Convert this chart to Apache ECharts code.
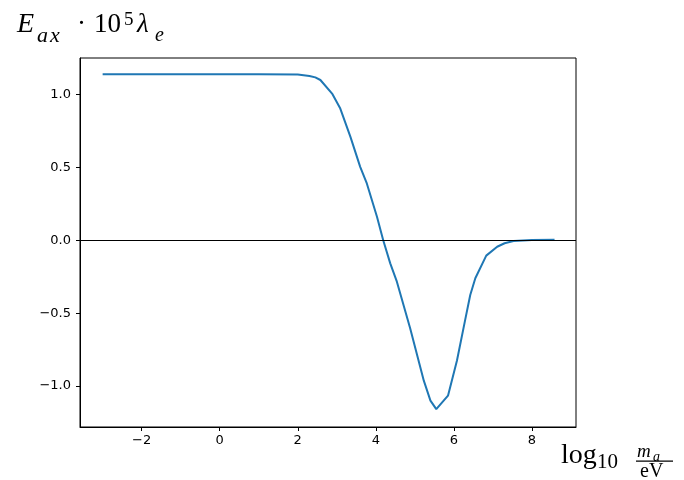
<!DOCTYPE html>
<html>
<head>
<meta charset="utf-8">
<script src="https://cdn.jsdelivr.net/npm/echarts@6/dist/echarts.min.js"></script>
<style>
  html, body { margin: 0; padding: 0; background: #fff; }
  #chart { width: 684px; height: 480px; }
</style>
</head>
<body>
<div id="chart"></div>
<script>
  // log10(m_a / eV)
  const massLog = [-3, -2, -1, 0, 1, 2, 2.3, 2.45, 2.58, 2.88, 3.09, 3.35, 3.6, 3.77, 4.03, 4.19, 4.37, 4.54, 4.88, 5.23, 5.4, 5.55, 5.85, 6.08, 6.29, 6.42, 6.55, 6.83, 7.11, 7.3, 7.53, 8.0, 8.58]
  // E_ax * 1e5 * lambda_e
  const energy = [1.139, 1.139, 1.139, 1.139, 1.139, 1.137, 1.128, 1.118, 1.1, 1.007, 0.904, 0.71, 0.504, 0.39, 0.162, 0, -0.158, -0.284, -0.603, -0.963, -1.1, -1.158, -1.066, -0.825, -0.546, -0.375, -0.26, -0.105, -0.044, -0.02, -0.005, 0.002, 0.004]
  const xTicks = [-2, 0, 2, 4, 6, 8]
  const yTicks = [-1, -0.5, 0, 0.5, 1]

  const minus = s => String(s).replace('-', '\u2212')
  const serif = '"Liberation Serif", "DejaVu Serif", serif'

  const chart = echarts.init(document.getElementById('chart'))

  // small helper for the math-like labels
  function txt(x, y, text, size, italic) {
    return {
      type: 'text', x: x, y: y, silent: true,
      style: {
        text: text, fill: '#000',
        font: (italic ? 'italic ' : '') + size + 'px ' + serif,
        verticalAlign: 'middle', align: 'left'
      }
    }
  }

  const option = {
    animation: false,
    backgroundColor: '#fff',
    grid: {
      left: 80, right: 108, top: 58, bottom: 53,
      show: true, borderColor: '#000', borderWidth: 1
    },
    xAxis: {
      type: 'value', min: -3.58, max: 9.13,
      axisLine: { show: true, onZero: false, lineStyle: { color: '#000', width: 1 } },
      axisTick: { show: true, customValues: xTicks, length: 4, lineStyle: { color: '#000' } },
      axisLabel: {
        customValues: xTicks, color: '#000', fontSize: 13, margin: 7,
        fontFamily: '"DejaVu Sans", sans-serif',
        formatter: v => minus(v)
      },
      splitLine: { show: false }
    },
    yAxis: {
      type: 'value', min: -1.281, max: 1.251,
      axisLine: { show: true, onZero: false, lineStyle: { color: '#000', width: 1 } },
      axisTick: { show: true, customValues: yTicks, length: 4, lineStyle: { color: '#000' } },
      axisLabel: {
        customValues: yTicks, color: '#000', fontSize: 13, margin: 9,
        fontFamily: '"DejaVu Sans", sans-serif',
        formatter: v => minus(v.toFixed(1))
      },
      splitLine: { show: false }
    },
    series: [{
      type: 'line',
      data: massLog.map((x, i) => [x, energy[i]]),
      showSymbol: false,
      lineStyle: { color: '#1f77b4', width: 2 },
      markLine: {
        silent: true, symbol: 'none', label: { show: false },
        lineStyle: { color: '#000', width: 1, type: 'solid' },
        data: [{ yAxis: 0 }]
      }
    }],
    graphic: [
      // y label: E_ax . 10^5 lambda_e
      txt(17, 25, 'E', 28, true),
      txt(37, 36, 'a', 22, true),
      txt(50, 36, 'x', 22, true),
      txt(77, 25, '\u00b7', 27, false),
      txt(94, 25, '10', 27, false),
      txt(124, 20, '5', 19, false),
      txt(137, 25, '\u03bb', 27, true),
      txt(155, 36, 'e', 20, true),
      // x label: log10 (m_a / eV)
      txt(561, 456, 'log', 28, false),
      txt(597, 462, '10', 21, false),
      txt(637, 452, 'm', 19, true),
      txt(653, 457, 'a', 14, true),
      { type: 'rect', silent: true, shape: { x: 636, y: 460.5, width: 37, height: 1.2 }, style: { fill: '#000' } },
      txt(640, 472, 'eV', 20, false)
    ]
  }

  chart.setOption(option)
</script>
</body>
</html>
